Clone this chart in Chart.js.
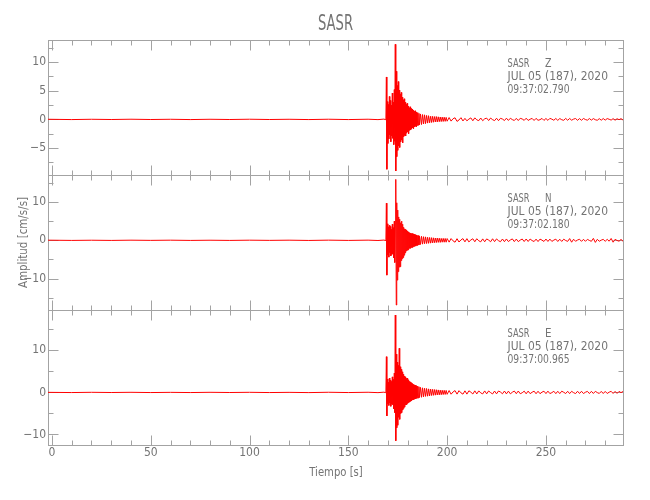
<!DOCTYPE html>
<html>
<head>
<meta charset="utf-8">
<script src="https://cdn.jsdelivr.net/npm/chart.js@4.4.1/dist/chart.umd.min.js"></script>
<style>
html,body{margin:0;padding:0;background:#fff;}
canvas{display:block;}
</style>
</head>
<body>
<canvas id="c" width="650" height="500"></canvas>
<script>
// ---------------- data ----------------
const stationName = 'SASR';
const components = ['Z', 'N', 'E'];
const dateLabel = 'JUL 05 (187), 2020';
const startTimes = ['09:37:02.790', '09:37:02.180', '09:37:00.965'];
const xAxisTitle = 'Tiempo [s]';
const yAxisTitle = 'Amplitud [cm/s/s]';

// time samples (s)
const preTimes = [-2, 10, 20, 30, 40, 50, 60, 70, 80, 90, 100, 110, 120, 130, 140, 150, 160, 165, 168, 169];
const eventTimes = [
  169.25, 169.5, 169.75, 170,
  170.25, 170.5, 170.75, 171,
  171.25, 171.5, 171.75, 172,
  172.25, 172.5, 172.75, 173,
  173.25, 173.5, 173.75, 174,
  174.25, 174.5, 174.75, 175,
  175.25, 175.5, 175.75, 176,
  176.25, 176.5, 176.75, 177,
  177.25, 177.5, 177.75, 178,
  178.25, 178.5, 178.75, 179,
  179.25, 179.5, 179.75, 180,
  180.25, 180.5, 180.75, 181,
  181.25, 181.5, 181.75, 182,
  182.25, 182.5, 182.75, 183,
  183.25, 183.5, 183.75, 184,
  184.25, 184.5, 184.75, 185,
  185.25, 185.5, 185.75, 186,
  186.5, 187, 187.5, 188, 188.5, 189, 189.5, 190, 190.5, 191, 191.5, 192, 192.5, 193,
  193.5, 194, 194.5, 195, 195.5, 196, 196.5, 197, 197.5, 198, 198.5, 199, 199.5, 200];
const codaTimes = [201, 202, 203, 204, 205, 206, 207, 208, 209, 210, 211, 212, 213, 214, 215, 216, 217, 218, 219, 220, 221, 222, 223, 224, 225, 226, 227, 228, 229, 230, 231, 232, 233, 234, 235, 236, 237, 238, 239, 240, 241, 242, 243, 244, 245, 246, 247, 248, 249, 250, 251, 252, 253, 254, 255, 256, 257, 258, 259, 260, 261, 262, 263, 264, 265, 266, 267, 268, 269, 270, 271, 272, 273, 274, 275, 276, 277, 278, 279, 280, 281, 282, 283, 284, 285, 286, 287, 288, 289];

// Z component (cm/s/s)
const zPre = [0.02, -0.03, 0.02, -0.02, 0.03, -0.02, 0.02, -0.03, 0.02, -0.02, 0.03, -0.02, 0.02, -0.03, 0.03, -0.03, 0.03, -0.04, 0.05, -0.06];
const zEvent = [
  7.4, -8.7, 3.1, -4.2,
  2.6, -3.4, 4.0, -2.7,
  3.3, -3.9, 2.5, -2.9,
  4.6, -3.3, 3.0, -4.4,
  5.2, -3.8, 13.1, -9.0,
  8.4, -6.5, 5.9, -5.4,
  6.6, -4.6, 5.1, -4.9,
  4.4, -3.9, 4.7, -3.6,
  3.9, -4.1, 3.4, -3.0,
  3.6, -2.8, 3.0, -2.9,
  2.6, -2.4, 2.8, -2.2,
  2.3, -2.5, 2.0, -1.9,
  2.2, -1.8, 1.9, -1.7,
  1.8, -1.5, 1.6, -1.6,
  1.4, -1.3, 1.5, -1.2,
  1.3, -1.25, 1.1, -1.1,
  1.2, -1.0, 1.05, -0.95,
  0.95, -0.9, 0.85, -0.8, 0.8, -0.75, 0.7, -0.65, 0.65, -0.6, 0.55, -0.55, 0.55, -0.5,
  0.5, -0.45, 0.5, -0.45, 0.45, -0.4, 0.42, -0.38, 0.4, -0.36, 0.38, -0.34, 0.35, -0.32];
const zCoda = [0.32, -0.3, 0.12, 0.28, -0.35, -0.1, 0.3, -0.27, 0.18, -0.25,
  0.05, 0.26, -0.24, 0.27, -0.08, -0.22, 0.24, -0.23, 0.1, 0.22,
  -0.2, 0.23, -0.05, -0.21, 0.2, -0.22, 0.19, 0.06, -0.2, 0.21,
  -0.18, 0.2, -0.04, -0.19, 0.18, -0.2, 0.19, 0.07, -0.17, 0.2,
  -0.18, 0.03, 0.17, -0.19, 0.18, -0.16, -0.05, 0.17, -0.18, 0.16,
  -0.17, 0.18, 0.04, -0.15, 0.16, -0.17, 0.15, -0.06, -0.16, 0.17,
  -0.15, 0.16, -0.14, 0.05, 0.15, -0.16, 0.14, -0.15, 0.16, -0.03,
  -0.14, 0.15, -0.13, 0.14, -0.06, -0.15, 0.13, -0.14, 0.15, -0.13,
  0.14, 0.02, -0.12, 0.13, -0.14, 0.12, -0.05, 0.13, -0.11];

// N component
const nPre = [0.03, -0.03, 0.02, -0.03, 0.03, -0.02, 0.03, -0.03, 0.02, -0.03, 0.03, -0.02, 0.03, -0.04, 0.04, -0.03, 0.04, -0.05, 0.06, -0.08];
const nEvent = [
  9.7, -9.1, 4.3, -3.8,
  3.5, -4.4, 3.9, -3.2,
  3.6, -4.1, 2.9, -3.7,
  4.2, -3.5, 3.3, -4.6,
  5.0, -5.8, 4.4, 15.9,
  -16.9, 9.8, -10.4, 7.9,
  -8.2, 6.1, -7.0, 5.5,
  -6.9, 4.6, -5.3, 5.0,
  -4.8, 4.2, -4.5, 3.4,
  -3.9, 3.0, -3.3, 2.9,
  -2.8, 2.7, -2.6, 2.4,
  -2.5, 2.2, -2.1, 2.0,
  -2.1, 1.9, -1.9, 1.8,
  -1.9, 1.8, -1.7, 1.7,
  -1.6, 1.6, -1.5, 1.5,
  -1.4, 1.4, -1.3, 1.3,
  -1.3, 1.2, -1.2, 1.1,
  -1.1, 1.05, -1.0, 0.95, -0.9, 0.9, -0.85, 0.8, -0.8, 0.75, -0.75, 0.7, -0.7, 0.65,
  -0.65, 0.6, -0.6, 0.6, -0.55, 0.55, -0.55, 0.5, -0.5, 0.5, -0.5, 0.48, -0.5, 0.46];
const nCoda = [-0.48, 0.45, -0.15, -0.5, 0.42, -0.45, 0.1, 0.44, -0.4, 0.43,
  -0.42, 0.08, 0.4, -0.38, 0.41, -0.12, -0.4, 0.37, -0.39, 0.36,
  0.05, -0.38, 0.4, -0.35, 0.36, -0.1, -0.37, 0.34, -0.36, 0.35,
  -0.33, 0.08, 0.36, -0.34, 0.32, -0.35, 0.06, 0.33, -0.32, 0.34,
  -0.31, 0.33, -0.07, -0.32, 0.3, -0.33, 0.31, 0.04, -0.3, 0.32,
  -0.3, 0.31, -0.29, 0.05, 0.3, -0.31, 0.28, -0.3, 0.29, -0.06,
  -0.28, 0.45, -0.5, 0.28, -0.26, 0.07, 0.27, -0.28, 0.26, -0.27,
  0.25, -0.05, -0.26, 0.5, -0.55, 0.26, -0.25, 0.04, 0.24, -0.26,
  0.25, -0.24, 0.48, -0.5, 0.25, -0.05, -0.24, 0.23, -0.25];

// E component
const ePre = [0.02, -0.03, 0.03, -0.02, 0.03, -0.03, 0.02, -0.03, 0.03, -0.02, 0.03, -0.03, 0.02, -0.04, 0.04, -0.03, 0.04, -0.05, 0.06, -0.07];
const eEvent = [
  8.5, -5.6, 3.2, -2.7,
  2.4, -3.1, 3.4, -2.5,
  2.9, -3.3, 2.6, -2.8,
  3.7, -2.9, 3.1, -3.9,
  4.6, -4.8, 18.4, -11.5,
  9.1, -8.4, 7.2, -7.8,
  6.4, -5.9, 10.5, -6.4,
  6.1, -5.0, 5.5, -4.8,
  4.9, -4.2, 4.3, -3.8,
  3.9, -3.5, 3.7, -3.0,
  3.3, -2.9, 3.4, -2.6,
  3.0, -2.4, 2.6, -2.3,
  2.5, -2.1, 2.3, -2.0,
  2.1, -1.8, 1.9, -1.7,
  1.8, -1.6, 1.7, -1.5,
  1.6, -1.4, 1.5, -1.4,
  1.4, -1.3, 1.35, -1.2,
  1.2, -1.15, 1.1, -1.05, 1.0, -0.95, 0.95, -0.9, 0.85, -0.85, 0.8, -0.75, 0.75, -0.7,
  0.7, -0.65, 0.65, -0.6, 0.6, -0.58, 0.55, -0.55, 0.52, -0.5, 0.5, -0.48, 0.48, -0.45];
const eCoda = [0.45, -0.42, 0.12, 0.44, -0.4, 0.42, -0.1, -0.41, 0.38, -0.4,
  0.39, 0.06, -0.37, 0.38, -0.36, 0.37, -0.11, -0.35, 0.36, -0.34,
  0.35, -0.05, -0.36, 0.33, -0.34, 0.34, 0.08, -0.32, 0.33, -0.34,
  0.31, -0.33, 0.05, 0.32, -0.3, 0.33, -0.31, -0.07, 0.3, -0.32,
  0.31, -0.29, 0.04, 0.3, -0.31, 0.28, -0.3, 0.06, 0.29, -0.28,
  0.3, -0.27, -0.05, 0.28, -0.29, 0.27, -0.28, 0.29, 0.03, -0.26,
  0.27, -0.28, 0.26, -0.06, -0.27, 0.28, -0.25, 0.27, -0.26, 0.05,
  0.25, -0.27, 0.26, -0.25, 0.26, -0.04, -0.24, 0.25, -0.26, 0.24,
  -0.25, 0.06, 0.26, -0.24, 0.25, -0.23, 0.24, -0.05, 0.22];

// axes ranges and ticks
const xRange = [-2, 289];
const xLabelTicks = [0, 50, 100, 150, 200, 250];
const xMinorTicks = [0, 10, 20, 30, 40, 50, 60, 70, 80, 90, 100, 110, 120, 130, 140, 150, 160, 170, 180, 190, 200, 210, 220, 230, 240, 250, 260, 270, 280];

const zRange = [-9.7, 13.85];
const zLabelTicks = [-5, 0, 5, 10];
const zMinorTicks = [-7.5, -5, -2.5, 0, 2.5, 5, 7.5, 10, 12.5];
const nRange = [-18.2, 17.05];
const nLabelTicks = [-10, 0, 10];
const nMinorTicks = [-15, -10, -5, 0, 5, 10, 15];
const eRange = [-12.5, 19.6];
const eLabelTicks = [-10, 0, 10];
const eMinorTicks = [-10, -5, 0, 5, 10, 15];

// ---------------- chart ----------------
const TEXT = '#747474';
const AXIS = '#a3a3a3';
const TRACE = '#ff0000';
const TICK_FONT = '"Liberation Sans Narrow", "DejaVu Sans Condensed", "DejaVu Sans", sans-serif';

const times = preTimes.concat(eventTimes, codaTimes);
const toPoints = vals => times.map((t, i) => ({x: t, y: vals[i]}));
const zValues = zPre.concat(zEvent, zCoda);
const nValues = nPre.concat(nEvent, nCoda);
const eValues = ePre.concat(eEvent, eCoda);

const panels = [
  {id: 'yZ', range: zRange, labels: zLabelTicks, minor: zMinorTicks, values: zValues, comp: components[0], time: startTimes[0]},
  {id: 'yN', range: nRange, labels: nLabelTicks, minor: nMinorTicks, values: nValues, comp: components[1], time: startTimes[1]},
  {id: 'yE', range: eRange, labels: eLabelTicks, minor: eMinorTicks, values: eValues, comp: components[2], time: startTimes[2]}
];

function fitText(ctx, str, x, y, size, width, align) {
  ctx.save();
  ctx.font = size + 'px "DejaVu Sans"';
  const w = ctx.measureText(str).width;
  ctx.translate(x, y);
  ctx.scale(width / w, 1);
  ctx.textAlign = align || 'left';
  ctx.textBaseline = 'alphabetic';
  ctx.fillText(str, 0, 0);
  ctx.restore();
}

const framePlugin = {
  id: 'frame',
  beforeDatasetsDraw(chart) {
    const ctx = chart.ctx;
    const xs = chart.scales.x;
    const l = Math.round(xs.left) + 0.5, r = Math.round(xs.right) + 0.5;
    ctx.save();
    ctx.strokeStyle = AXIS;
    ctx.lineWidth = 1;
    const seg = (x1, y1, x2, y2) => { ctx.beginPath(); ctx.moveTo(x1, y1); ctx.lineTo(x2, y2); ctx.stroke(); };
    panels.forEach(p => {
      const ys = chart.scales[p.id];
      const top = Math.round(ys.top) + 0.5, bot = Math.round(ys.bottom) + 0.5;
      ctx.strokeRect(l, top, r - l, bot - top);
      xMinorTicks.forEach(v => {
        const px = Math.round(xs.getPixelForValue(v)) + 0.5;
        const len = xLabelTicks.includes(v) ? 10 : 5;
        seg(px, top, px, top + len);
        seg(px, bot, px, bot - len);
      });
      p.minor.forEach(v => {
        const py = Math.round(ys.getPixelForValue(v)) + 0.5;
        const len = p.labels.includes(v) ? 10 : 5;
        seg(l, py, l + len, py);
        seg(r, py, r - len, py);
      });
    });
    ctx.restore();
  },
  afterDraw(chart) {
    const ctx = chart.ctx;
    const xs = chart.scales.x;
    ctx.save();
    ctx.fillStyle = TEXT;
    // title
    fitText(ctx, stationName, (xs.left + xs.right) / 2, 30, 20.5, 35, 'center');
    // annotations
    panels.forEach(p => {
      const top = chart.scales[p.id].top;
      fitText(ctx, stationName, 507.5, top + 26.5, 11.4, 22, 'left');
      fitText(ctx, p.comp, 545, top + 26.5, 11.4, 6.5, 'left');
      fitText(ctx, dateLabel, 507.5, top + 39.5, 11.4, 100.5, 'left');
      fitText(ctx, p.time, 507.5, top + 53, 11.4, 62, 'left');
    });
    // x axis title
    fitText(ctx, xAxisTitle, 336, 476, 11.4, 53.5, 'center');
    // y axis title
    const yMid = (chart.scales.yN.top + chart.scales.yN.bottom) / 2;
    ctx.save();
    ctx.translate(27, yMid);
    ctx.rotate(-Math.PI / 2);
    fitText(ctx, yAxisTitle, 0, 0, 11.4, 91, 'center');
    ctx.restore();
    ctx.restore();
  }
};

const fmt = v => (v < 0 ? '\u2212' : '') + Math.abs(v);

function yScale(p) {
  return {
    type: 'linear',
    position: 'left',
    stack: 'seis',
    stackWeight: 1,
    min: p.range[0],
    max: p.range[1],
    grid: {display: false, drawTicks: false},
    border: {display: false},
    ticks: {color: TEXT, font: {family: TICK_FONT, size: 12}, padding: 2, callback: fmt},
    afterBuildTicks: s => { s.ticks = p.labels.map(v => ({value: v})); },
    afterFit: s => { s.width = 48; }
  };
}

const scales = {
  x: {
    type: 'linear',
    min: xRange[0],
    max: xRange[1],
    grid: {display: false, drawTicks: false},
    border: {display: false},
    ticks: {color: TEXT, font: {family: TICK_FONT, size: 12}, padding: 1, maxRotation: 0, callback: fmt},
    afterBuildTicks: s => { s.ticks = xLabelTicks.map(v => ({value: v})); },
    afterFit: s => { s.height = 55; }
  }
};
// stacked axes are laid out bottom-up, so register them in reverse order
panels.slice().reverse().forEach(p => { scales[p.id] = yScale(p); });

new Chart(document.getElementById('c'), {
  type: 'line',
  data: {
    datasets: panels.map(p => ({
      label: stationName + ' ' + p.comp,
      data: toPoints(p.values),
      yAxisID: p.id,
      xAxisID: 'x',
      borderColor: TRACE,
      borderWidth: 1,
      pointRadius: 0,
      tension: 0,
      fill: false
    }))
  },
  options: {
    responsive: false,
    animation: false,
    devicePixelRatio: 1,
    layout: {padding: {left: 0, right: 27, top: 40, bottom: 0}},
    plugins: {legend: {display: false}, tooltip: {enabled: false}, title: {display: false}},
    scales: scales
  },
  plugins: [framePlugin]
});
</script>
</body>
</html>
